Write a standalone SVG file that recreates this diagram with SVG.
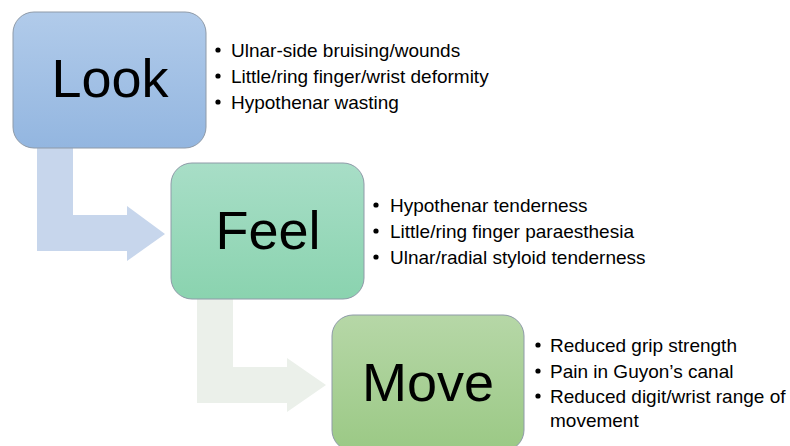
<svg xmlns="http://www.w3.org/2000/svg" width="790" height="446" viewBox="0 0 790 446">
  <defs>
    <linearGradient id="gLook" x1="0" y1="0" x2="0" y2="1">
      <stop offset="0" stop-color="#B1CBEA"/>
      <stop offset="1" stop-color="#93B6E0"/>
    </linearGradient>
    <linearGradient id="gFeel" x1="0" y1="0" x2="0" y2="1">
      <stop offset="0" stop-color="#A8DEC7"/>
      <stop offset="1" stop-color="#8AD3AF"/>
    </linearGradient>
    <linearGradient id="gMove" x1="0" y1="0" x2="0" y2="1">
      <stop offset="0" stop-color="#B6D7A7"/>
      <stop offset="1" stop-color="#9BC985"/>
    </linearGradient>
    <style>
      .box { stroke: #8E9AA8; stroke-width: 1; }
      .title { font-family: "Liberation Sans", Arial, sans-serif; font-size: 54px; fill: #000; text-anchor: middle; }
      .item { font-family: "Liberation Sans", Arial, sans-serif; font-size: 19px; fill: #000; }
    </style>
  </defs>
  <rect width="790" height="446" fill="#FFFFFF"/>
  <g id="connectors">
    <path d="M37,148 H73 V215 H127 V206 L165,234 L127,261 V251 H37 Z" fill="#C7D6EC"/>
    <path d="M197,299 H233 V367 H287 V358 L326,385 L287,412 V403 H197 Z" fill="#EBF0EA"/>
  </g>
  <g id="look">
    <rect class="box" x="13" y="12" width="193" height="136" rx="21" fill="url(#gLook)"/>
    <text class="title" x="110" y="97">Look</text>
    <g class="item">
      <circle cx="218" cy="50" r="2.6"/>
      <text class="item" x="231" y="57">Ulnar-side bruising/wounds</text>
      <circle cx="218" cy="76" r="2.6"/>
      <text class="item" x="231" y="83">Little/ring finger/wrist deformity</text>
      <circle cx="218" cy="102" r="2.6"/>
      <text class="item" x="231" y="109">Hypothenar wasting</text>
    </g>
  </g>
  <g id="feel">
    <rect class="box" x="171" y="163" width="193" height="136" rx="21" fill="url(#gFeel)"/>
    <text class="title" x="268" y="249">Feel</text>
    <g class="item">
      <circle cx="376" cy="205" r="2.6"/>
      <text class="item" x="390" y="212">Hypothenar tenderness</text>
      <circle cx="376" cy="231" r="2.6"/>
      <text class="item" x="390" y="238">Little/ring finger paraesthesia</text>
      <circle cx="376" cy="257" r="2.6"/>
      <text class="item" x="390" y="264">Ulnar/radial styloid tenderness</text>
    </g>
  </g>
  <g id="move">
    <rect class="box" x="332" y="315" width="192" height="136" rx="21" fill="url(#gMove)"/>
    <text class="title" x="428" y="401">Move</text>
    <g class="item">
      <circle cx="538" cy="345" r="2.6"/>
      <text class="item" x="550" y="352">Reduced grip strength</text>
      <circle cx="538" cy="371" r="2.6"/>
      <text class="item" x="550" y="378">Pain in Guyon’s canal</text>
      <circle cx="538" cy="396" r="2.6"/>
      <text class="item" x="550" y="403">Reduced digit/wrist range of</text>
      <text class="item" x="550" y="427">movement</text>
    </g>
  </g>
</svg>
